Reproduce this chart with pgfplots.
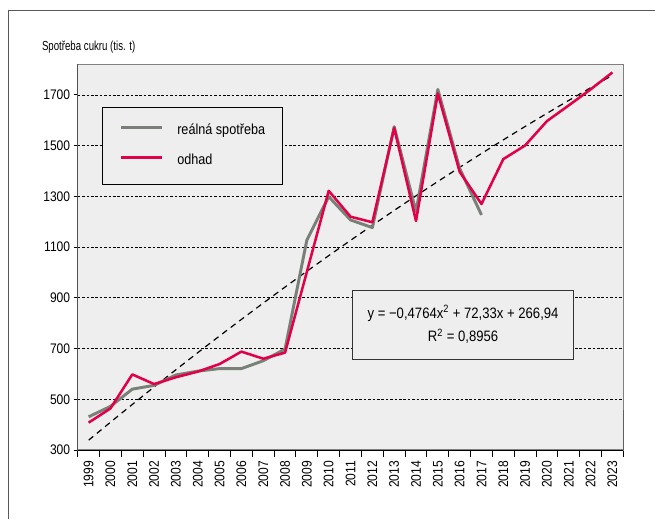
\documentclass[border=0pt]{standalone}
\usepackage{fontspec}
\setmainfont{Liberation Sans}[FakeStretch=0.87]
\newfontfamily\titlefont{Liberation Sans}[FakeStretch=0.74]
\usepackage{pgfplots}
\pgfplotsset{compat=1.18}
\definecolor{bgc}{RGB}{237,238,237}
\definecolor{grayl}{RGB}{120,128,120}
\definecolor{redl}{RGB}{226,0,72}
\begin{document}
\begin{tikzpicture}
\useasboundingbox (0,0) rectangle (491.25pt,389.25pt);
\fill[white] (0,0) rectangle (491.25pt,389.25pt);
\draw[color=black!65, line width=0.75pt] (6pt,0) -- (6pt,381pt) -- (491.25pt,381pt);
\node[anchor=base west, font=\titlefont\fontsize{9.8}{11}\selectfont, inner sep=0pt] at (31.3pt,351.75pt) {Spotřeba cukru (tis. t)};
\begin{axis}[
  at={(58.3pt,51.75pt)}, anchor=south west,
  scale only axis, width=409.2pt, height=289.3pt,
  xmin=-0.5, xmax=24.5, ymin=300, ymax=1821,
  axis background/.style={fill=bgc},
  axis line style={draw=black!50, line width=1pt},
  xtick={0,...,24},
  xticklabels={1999,2000,2001,2002,2003,2004,2005,2006,2007,2008,2009,2010,2011,2012,2013,2014,2015,2016,2017,2018,2019,2020,2021,2022,2023},
  minor xtick={-0.5,0.5,...,24.5},
  major x tick style={draw=none},
  minor x tick style={draw=black, line width=0.75pt},
  minor tick length=5.25pt,
  major tick length=3pt,
  tick align=outside,
  xtick pos=bottom, ytick pos=left,
  ytick={300,500,...,1700},
  y tick style={draw=black, line width=0.75pt},
  ymajorgrids=true,
  grid style={black, line width=0.55pt, dash pattern=on 2pt off 1.3pt},
  /pgf/number format/assume math mode=true,
  /pgf/number format/1000 sep={},
  yticklabel style={font=\fontsize{10.4}{12}\selectfont, inner sep=0pt, xshift=-2.5pt},
  xticklabel style={font=\fontsize{10.4}{12}\selectfont, rotate=90, anchor=east, inner sep=0pt, xshift=-5pt},
  legend style={at={(0.045,0.8886)}, anchor=north west, draw=black, fill=bgc, line width=0.6pt,
    inner xsep=13pt, inner ysep=12.8pt, row sep=13pt,
    font=\fontsize{10.9}{12}\selectfont,
    nodes={inner sep=0pt, text height=7.5pt, text depth=2pt, anchor=west},
    /tikz/every odd column/.style={column sep=10pt}},
  legend cell align=left,
  legend image code/.code={\draw[#1] (0pt,2.5pt) -- (30.75pt,2.5pt);},
]
\addplot[black, line width=0.9pt, dash pattern=on 4.5pt off 3.5pt, forget plot] coordinates {
(0,338.79) (1,409.69) (2,479.64) (3,548.64) (4,616.68) (5,683.77) (6,749.91) (7,815.09) (8,879.32) (9,942.60) (10,1004.93) (11,1066.30) (12,1126.72) (13,1186.19) (14,1244.70) (15,1302.26) (16,1358.87) (17,1414.53) (18,1469.23) (19,1522.98) (20,1575.78) (21,1627.62) (22,1678.51) (23,1728.45) (24,1777.44)};
\addplot[grayl, line width=2.2pt, line join=round] coordinates {
(0,431) (1,472) (2,540) (3,555) (4,596) (5,611) (6,621) (7,621) (8,652) (9,698) (10,1128) (11,1299) (12,1207) (13,1177) (14,1575) (15,1240) (16,1722) (17,1410) (18,1227)};
\addlegendentry{reálná spotřeba}
\addplot[redl, line width=1.9pt, line join=round] coordinates {
(0,408) (1,464) (2,598) (3,560) (4,587) (5,609) (6,639) (7,688) (8,660) (9,684) (10,1003) (11,1322) (12,1220) (13,1198) (14,1570) (15,1203) (16,1706) (17,1397) (18,1270) (19,1447) (20,1501) (21,1597) (22,1659) (23,1722) (24,1789)};
\addlegendentry{odhad}
\node[draw=black!80, fill=bgc, line width=0.6pt, minimum width=165.5pt, minimum height=51.75pt, align=center, inner sep=0pt, font=\fontsize{11.3}{17.5}\selectfont] at (rel axis cs:0.7062,0.3254) {y = −0,4764x\textsuperscript{2} + 72,33x + 266,94\\R\textsuperscript{2} = 0,8956};
\draw[black, line width=0.75pt] (rel axis cs:0,1) -- (rel axis cs:0,0) -- (rel axis cs:1,0);
\draw[black!85, line width=1pt] (rel axis cs:1,0) -- (rel axis cs:1,0.104);
\end{axis}
\end{tikzpicture}
\end{document}
